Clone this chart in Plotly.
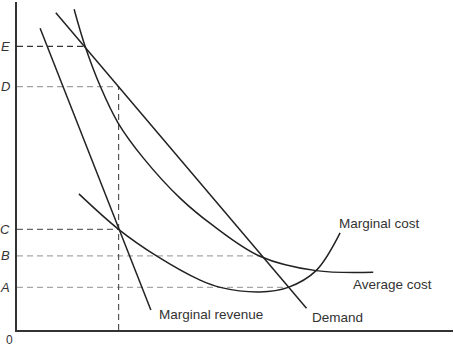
import plotly.graph_objects as go

# Quantity (x) and price (y) in arbitrary units, 0-100 on both axes.
demand_q = [8.9, 66.4]
demand_p = [96.7, 6.6]

mr_q = [5.3, 30.7]
mr_p = [92.0, 6.1]

ac_q = [13.1, 15.6, 19.2, 23.2, 29.0, 37.4, 45.0, 55.7, 68.6, 81.7]
ac_p = [97.8, 86.6, 74.0, 63.1, 52.4, 40.2, 31.8, 22.5, 18.1, 17.6]

mc_q = [14.2, 23.3, 32.0, 42.0, 46.6, 55.7, 62.2, 68.6, 74.1]
mc_p = [41.5, 30.7, 22.6, 15.2, 13.0, 11.6, 13.0, 18.1, 29.6]

level_names = ["E", "D", "C", "B", "A"]
level_prices = [86.5, 74.2, 30.7, 22.6, 13.0]
level_reach = [15.6, 23.3, 23.3, 56.1, 62.2]  # quantity where each guide ends

q_star = 23.3  # profit-maximising output
p_star = 74.2  # price

curve_labels = ["Marginal cost", "Average cost", "Marginal revenue", "Demand"]
curve_label_q = [73.4, 76.6, 32.0, 67.3]
curve_label_p = [32.6, 14.0, 4.6, 3.7]

LINE = "#222222"
TEXT = "#333333"
FONT = "Liberation Sans, Arial, sans-serif"
guide_colors = ["#333333", "#a0a0a0", "#666666", "#a8a8a8", "#a8a8a8"]

fig = go.Figure()

# dashed guides from the price axis
for name, p, q, col in zip(level_names, level_prices, level_reach, guide_colors):
    fig.add_trace(go.Scatter(x=[0, q], y=[p, p], mode="lines",
                             line=dict(color=col, width=1.2, dash="6px,4px"),
                             hoverinfo="skip", showlegend=False))

# vertical guide at the chosen output
fig.add_trace(go.Scatter(x=[q_star, q_star], y=[0, p_star], mode="lines",
                         line=dict(color="#555555", width=1.2, dash="6px,4px"),
                         hoverinfo="skip", showlegend=False))

# cost and revenue curves
fig.add_trace(go.Scatter(x=demand_q, y=demand_p, mode="lines",
                         line=dict(color=LINE, width=1.5), showlegend=False))
fig.add_trace(go.Scatter(x=mr_q, y=mr_p, mode="lines",
                         line=dict(color=LINE, width=1.5), showlegend=False))
fig.add_trace(go.Scatter(x=ac_q, y=ac_p, mode="lines", line_shape="spline",
                         line=dict(color=LINE, width=1.5), showlegend=False))
fig.add_trace(go.Scatter(x=mc_q, y=mc_p, mode="lines", line_shape="spline",
                         line=dict(color=LINE, width=1.5), showlegend=False))

annotations = []
for name, p in zip(level_names, level_prices):
    annotations.append(dict(x=0, y=p, xref="x", yref="y", text=name,
                            showarrow=False, xanchor="right", xshift=-5,
                            font=dict(family=FONT, size=13, color=TEXT,
                                      style="italic")))
for txt, q, p in zip(curve_labels, curve_label_q, curve_label_p):
    annotations.append(dict(x=q, y=p, xref="x", yref="y", text=txt,
                            showarrow=False, xanchor="left", yanchor="middle",
                            font=dict(family=FONT, size=13.5, color=TEXT)))
annotations.append(dict(x=0, y=0, xref="x", yref="y", text="0", showarrow=False,
                        xanchor="right", yanchor="middle", xshift=-2, yshift=-10,
                        font=dict(family=FONT, size=12, color=TEXT)))

fig.update_layout(
    width=454, height=348,
    margin=dict(l=17, r=1, t=2, b=18),
    paper_bgcolor="white", plot_bgcolor="white",
    annotations=annotations,
    xaxis=dict(range=[0, 100], showgrid=False, zeroline=False,
               showticklabels=False, ticks="", showline=True,
               linecolor="#333333", linewidth=2),
    yaxis=dict(range=[0, 100], showgrid=False, zeroline=False,
               showticklabels=False, ticks="", showline=True,
               linecolor="#333333", linewidth=2),
)

fig.write_html("out.html")
